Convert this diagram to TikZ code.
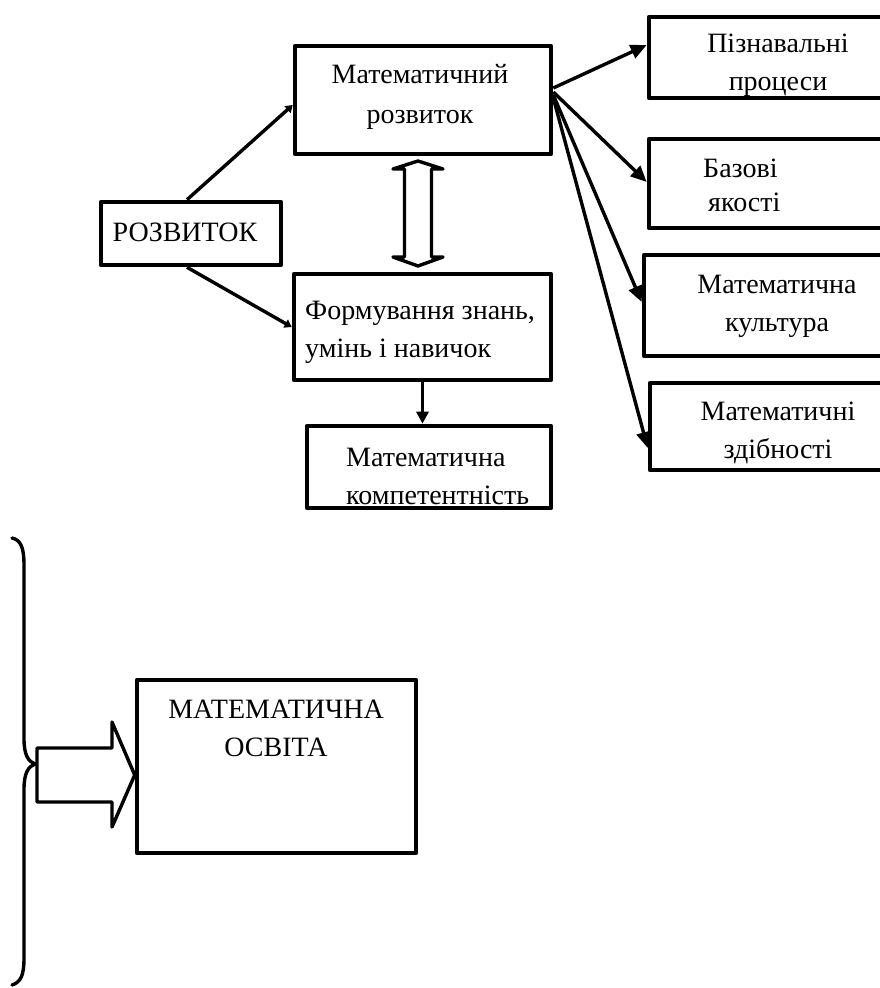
\documentclass[tikz,border=0pt]{standalone}
\usepackage{fontspec}
\setmainfont{Liberation Serif}
\newfontfamily\tnrfont{Liberation Serif}
\usetikzlibrary{arrows.meta,calc}
\begin{document}
\begin{tikzpicture}[x=1pt,y=-1pt,
  box/.style={draw,line width=4.6pt,inner sep=0pt,line join=round},
  lbl/.style={inner sep=0pt,font=\tnrfont\fontsize{28}{38}\selectfont},
  fan/.style={line width=3.4pt,-{Triangle[length=16pt,width=14pt]}},
  small/.style={line width=3.4pt,-{Triangle[length=7pt,width=9pt]}},
  down/.style={line width=3.4pt,-{Triangle[length=12pt,width=12pt]}},
  hollow/.style={draw,line width=3.4pt,line join=round,fill=white}]
\useasboundingbox (0,0) rectangle (879,988);
% boxes
\node[box,minimum width=256pt,minimum height=108pt] (mr) at (423,100) {};
\node[box,minimum width=180pt,minimum height=63pt] (rz) at (191,233.5) {};
\node[box,minimum width=257pt,minimum height=106pt] (fz) at (422.5,327) {};
\node[box,minimum width=244pt,minimum height=82pt] (mk) at (429,467) {};
\node[box,minimum width=239pt,minimum height=81pt] (pz) at (768.5,57.5) {};
\node[box,minimum width=239pt,minimum height=89pt] (bz) at (768.5,183.5) {};
\node[box,minimum width=244pt,minimum height=101pt] (mc) at (766,305.5) {};
\node[box,minimum width=238pt,minimum height=87pt] (mz) at (769,426.5) {};
\node[box,minimum width=279pt,minimum height=173pt] (mo) at (276.5,766.5) {};
% texts
\node[lbl,align=center,font=\tnrfont\fontsize{28}{40}\selectfont] (mrt) at (420,97) {Математичний\\розвиток};
\node[lbl] (rzt) at (185,232) {РОЗВИТОК};
\node[lbl,align=left,anchor=west] (fzt) at (305,332) {Формування знань,\\умінь і навичок};
\node[lbl,align=left,anchor=west] (mkt) at (346,476) {Математична\\компетентність};
\node[lbl,align=center] (pzt) at (778,65) {Пізнавальні\\процеси};
\node[lbl,align=left,anchor=west,font=\tnrfont\fontsize{28}{34}\selectfont] (bzt) at (703,185) {Базові\\\hspace*{5pt}якості};
\node[lbl,align=center] (mct) at (777,306) {Математична\\культура};
\node[lbl,align=center] (mzt) at (778,433) {Математичні\\здібності};
\node[lbl,align=center] (mot) at (276,728) {МАТЕМАТИЧНА\\ОСВІТА};
% connectors
\coordinate (rzN) at ($(rz.north)+(-4,0)$);
\coordinate (rzS) at ($(rz.south)+(-4,0)$);
\draw[small] (rzN) -- ($(mr.west)+(0,5)$);
\draw[small] (rzS) -- (fz.west);
\coordinate (f1) at ($(mr.east)+(0,-12)$);
\coordinate (f2) at ($(mr.east)+(0,-8)$);
\coordinate (f3) at ($(mr.east)+(0,-5)$);
\coordinate (f4) at ($(mr.east)+(0,-2)$);
\draw[fan] (f1) -- ($(pz.west)+(0,-12.5)$);
\draw[fan] (f2) -- ($(bz.west)+(0,-1.5)$);
\draw[fan] (f3) -- ($(mc.west)+(0,-3.5)$);
\draw[fan] (f4) -- ($(mz.west)+(0,21.5)$);
\draw[down] (fz.south) -- (fz.south |- mk.north);
% double hollow arrow between mr and fz
\draw[hollow] (418,161) -- (443,169) -- (431.5,169) -- (431.5,257) -- (443,257)
  -- (418,266) -- (393,257) -- (404.5,257) -- (404.5,169) -- (393,169) -- cycle;
% brace
\draw[line width=3.4pt,line cap=round] (12,538) .. controls (21,540) and (24,548) .. (24,565)
  -- (24,738) .. controls (24,755) and (28,762) .. (36,764)
  .. controls (28,766) and (24,773) .. (24,790)
  -- (24,958) .. controls (24,975) and (21,982) .. (12,985);
% block arrow to mo
\draw[hollow] (37,748) -- (112,748) -- (112,722) -- (mo.west |- 0,775) -- (112,827)
  -- (112,802) -- (37,802) -- cycle;
\end{tikzpicture}
\end{document}
